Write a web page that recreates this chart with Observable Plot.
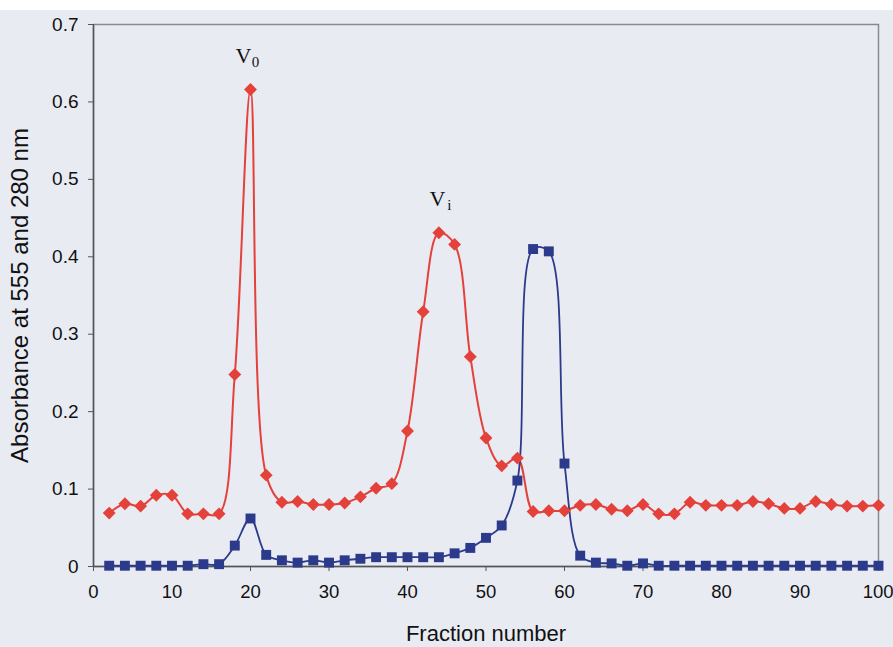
<!DOCTYPE html>
<html>
<head>
<meta charset="utf-8">
<script src="https://cdn.jsdelivr.net/npm/d3@7"></script>
<script src="https://cdn.jsdelivr.net/npm/@observablehq/plot@0.6"></script>
<style>
  html, body { margin: 0; padding: 0; background: #ffffff; }
  #chart { width: 893px; height: 647px; }
  svg { display: block; }
</style>
</head>
<body>
<div id="chart"></div>
<script>
// Fraction numbers
const fractions = [2,4,6,8,10,12,14,16,18,20,22,24,26,28,30,32,34,36,38,40,42,44,46,48,50,52,54,56,58,60,62,64,66,68,70,72,74,76,78,80,82,84,86,88,90,92,94,96,98,100];
// Absorbance at 555 nm (red diamonds)
const abs555 = [0.069,0.081,0.078,0.092,0.092,0.068,0.068,0.068,0.248,0.616,0.118,0.083,0.084,0.080,0.080,0.082,0.090,0.101,0.107,0.175,0.329,0.431,0.416,0.271,0.166,0.130,0.140,0.071,0.072,0.072,0.079,0.080,0.074,0.072,0.080,0.068,0.068,0.083,0.079,0.079,0.079,0.084,0.081,0.075,0.075,0.084,0.080,0.078,0.078,0.079];
// Absorbance at 280 nm (blue squares)
const abs280 = [0.001,0.001,0.001,0.001,0.001,0.001,0.003,0.003,0.027,0.062,0.015,0.008,0.005,0.008,0.005,0.008,0.010,0.012,0.012,0.012,0.012,0.012,0.017,0.024,0.037,0.053,0.111,0.410,0.407,0.133,0.014,0.005,0.004,0.001,0.004,0.001,0.001,0.001,0.001,0.001,0.001,0.001,0.001,0.001,0.001,0.001,0.001,0.001,0.001,0.001];
// Axis ticks
const xTicks = [0,10,20,30,40,50,60,70,80,90,100];
const yTicks = [0,0.1,0.2,0.3,0.4,0.5,0.6,0.7];
// Peak annotations
const peakLabels = ["V","V"];
const peakSubs = ["0","i"];
const peakX = [19.1, 43.8];
const peakY = [0.650, 0.466];

const red = d3.range(fractions.length).map(i => ({x: fractions[i], y: abs555[i]}));
const blue = d3.range(fractions.length).map(i => ({x: fractions[i], y: abs280[i]}));
const notes = d3.range(peakLabels.length).map(i => ({x: peakX[i], y: peakY[i], t: peakLabels[i], s: peakSubs[i]}));

const RED = "#e4413a";
const BLUE = "#2c3a8c";

const chart = Plot.plot({
  width: 893,
  height: 647,
  marginLeft: 93,
  marginRight: 15,
  marginTop: 24,
  marginBottom: 81,
  style: {background: "linear-gradient(#ffffff 0 10px, #e9ebf3 10px)", fontFamily: "Liberation Sans, Arial, sans-serif", fontSize: "19px", color: "#111"},
  x: {domain: [0, 100], ticks: xTicks, label: null},
  y: {domain: [0, 0.7], ticks: yTicks, label: null},
  marks: [
    Plot.frame({stroke: "#8a8a8e", strokeWidth: 1.5}),
    Plot.axisX({ticks: xTicks, tickSize: 5, tickPadding: 13, stroke: "#555", fontSize: 18.5, textStroke: "none", tickFormat: d => d}),
    Plot.axisX({ticks: xTicks, tickSize: 0, text: null, stroke: "#555"}),
    Plot.axisY({ticks: yTicks, tickSize: 5, tickPadding: 10, stroke: "#555", fontSize: 19, tickFormat: d => d === 0 ? "0" : d.toFixed(1)}),
    Plot.ruleX([0], {stroke: "#555", strokeWidth: 1.5}),
    Plot.ruleY([0], {stroke: "#555", strokeWidth: 1.5}),
    Plot.line(red, {x: "x", y: "y", stroke: RED, strokeWidth: 2, curve: "catmull-rom"}),
    Plot.line(blue, {x: "x", y: "y", stroke: BLUE, strokeWidth: 1.8, curve: "catmull-rom"}),
    Plot.dot(blue, {x: "x", y: "y", symbol: "square", r: 5.6, fill: BLUE, stroke: "none"}),
    Plot.dot(red, {x: "x", y: "y", symbol: "diamond2", r: 5.8, fill: RED, stroke: "none"}),
    Plot.text(notes, {x: "x", y: "y", text: "t", fontFamily: "Liberation Serif, Times New Roman, serif", fontSize: 22, fill: "#111", textAnchor: "middle", lineAnchor: "bottom"}),
    Plot.text(notes, {x: "x", y: "y", text: "s", dx: 12, dy: 4, fontFamily: "Liberation Serif, Times New Roman, serif", fontSize: 15, fill: "#111", textAnchor: "middle", lineAnchor: "bottom"}),
    Plot.text(["Absorbance at 555 and 280 nm"], {frameAnchor: "left", dx: -73, rotate: -90, fontSize: 24, fill: "#111", textAnchor: "middle"}),
    Plot.text(["Fraction number"], {frameAnchor: "bottom", dy: 74, fontSize: 22, fill: "#111", textAnchor: "middle"})
  ]
});
// keep the last x tick label ("100") inside the picture, as in the reference
d3.select(chart).selectAll("g[aria-label='x-axis tick label'] text")
  .filter(function() { return this.textContent === "100"; })
  .attr("text-anchor", "end").attr("dx", "15");
document.getElementById("chart").appendChild(chart);
</script>
</body>
</html>
